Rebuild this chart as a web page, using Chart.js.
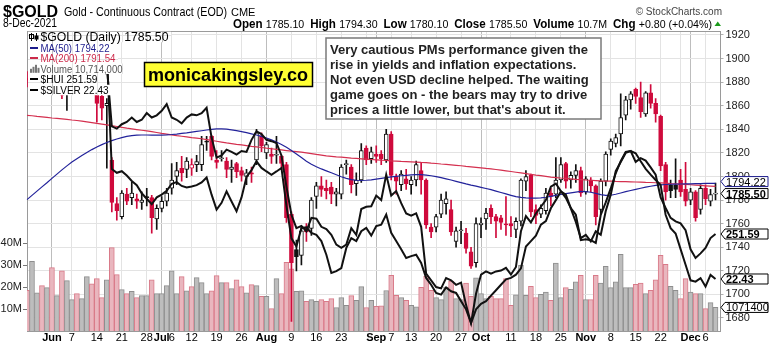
<!DOCTYPE html>
<html>
<head>
<meta charset="utf-8">
<script src="https://cdn.jsdelivr.net/npm/chart.js@4.4.0/dist/chart.umd.min.js"></script>
<style>
  html, body { margin: 0; padding: 0; background: #fff; }
</style>
</head>
<body>
<canvas id="goldChart" width="771" height="348"></canvas>
<script>
// trading days, May 24 - Dec 8 2021 (MM-DD)
const dates = [
  '05-24','05-25','05-26','05-27','05-28',
  '06-01','06-02','06-03','06-04','06-07','06-08','06-09','06-10','06-11','06-14','06-15','06-16','06-17','06-18',
  '06-21','06-22','06-23','06-24','06-25','06-28','06-29','06-30',
  '07-01','07-02','07-06','07-07','07-08','07-09','07-12','07-13','07-14','07-15','07-16','07-19','07-20','07-21',
  '07-22','07-23','07-26','07-27','07-28','07-29','07-30',
  '08-02','08-03','08-04','08-05','08-06','08-09','08-10','08-11','08-12','08-13','08-16','08-17','08-18','08-19',
  '08-20','08-23','08-24','08-25','08-26','08-27','08-30','08-31',
  '09-01','09-02','09-03','09-07','09-08','09-09','09-10','09-13','09-14','09-15','09-16','09-17','09-20','09-21',
  '09-22','09-23','09-24','09-27','09-28','09-29','09-30',
  '10-01','10-04','10-05','10-06','10-07','10-08','10-11','10-12','10-13','10-14','10-15','10-18','10-19','10-20',
  '10-21','10-22','10-25','10-26','10-27','10-28','10-29',
  '11-01','11-02','11-03','11-04','11-05','11-08','11-09','11-10','11-11','11-12','11-15','11-16','11-17','11-18',
  '11-19','11-22','11-23','11-24','11-26','11-29','11-30',
  '12-01','12-02','12-03','12-06','12-07','12-08'
];

const open = [
  1883,1882,1899,1900,1896,1906,1904,1909,1871,1891,
  1899,1894,1895,1897,1878,1868,1860,1814,1777,1766,
  1785,1782,1781,1778,1782,1782,1764,1773,1779,1790,
  1800,1807,1806,1807,1810,1810,1830,1834,1814,1815,
  1813,1806,1811,1805,1800,1803,1814,1834,1820,1819,
  1818,1817,1810,1768,1738,1733,1756,1756,1783,1792,
  1790,1791,1785,1785,1810,1808,1794,1797,1824,1815,
  1819,1819,1814,1836,1800,1793,1798,1793,1797,1805,
  1797,1757,1757,1768,1777,1772,1745,1754,1752,1736,
  1727,1759,1764,1773,1766,1765,1759.5,1760,1755,1762,
  1796,1801,1772,1768,1771,1786,1785,1797,1811,1797,
  1801,1805,1787,1797,1792,1772,1796,1823,1828,1836,
  1852,1865,1874,1867,1853,1871,1862,1851,1810,1793,
  1792.5,1797,1789,1780,1787,1772,1790,1779,1785.1
];
const high = [
  1889,1902,1913,1907,1916,1916,1910,1912,1894,1903,
  1902,1901,1902,1902,1880,1870,1866,1816,1782,1788,
  1790,1795,1785,1787,1790,1784,1776,1783,1790,1811,
  1812,1817,1816,1815,1818,1834,1834,1835,1822,1822,
  1816,1814,1812,1808,1806,1808,1840,1837,1829,1824,
  1834,1818,1812,1770,1746,1758,1760,1782,1795,1800,
  1797,1795,1790,1810,1814,1810,1803,1828,1826,1825,
  1826,1822,1840,1838,1802,1805,1806,1800,1813,1812,
  1798,1760,1768,1785,1787,1780,1757,1762,1756,1740,
  1765,1765,1773,1776,1768,1767,1783,1766,1765,1798,
  1805,1802,1776,1776,1790,1790,1816,1816,1812,1804,
  1810,1808,1800,1799,1793,1798,1821,1832,1836,1870,
  1868,1872,1875,1880,1872,1878,1866,1852,1812,1797,
  1815,1806,1812,1790,1788,1793,1793,1789,1794.3
];
const low = [
  1876,1879,1892,1888,1893,1897,1898,1866,1856,1888,
  1885,1886,1884,1874,1846,1848,1807,1770,1763,1764,
  1776,1776,1773,1772,1775,1752,1755,1770,1775,1785,
  1793,1796,1799,1801,1804,1805,1822,1814,1807,1813,
  1799,1795,1799,1796,1793,1795,1810,1821,1815,1811,
  1811,1806,1761,1677,1720,1725,1745,1750,1773,1783,
  1781,1777,1775,1781,1802,1786,1784,1795,1810,1811,
  1812,1810,1812,1797,1785,1788,1789,1785,1792,1785,
  1756,1748,1753,1765,1768,1750,1740,1743,1735,1722,
  1723,1748,1755,1760,1748,1755,1750,1749,1748,1758,
  1788,1766,1760,1765,1768,1775,1782,1795,1790,1790,
  1795,1783,1785,1787,1759,1768,1792,1818,1825,1826,
  1848,1857,1862,1850,1851,1858,1846,1805,1780,1782,
  1782,1783,1775,1776,1762,1768,1776,1775,1780.1
];
const close = [
  1882,1898,1901,1896,1905,1904,1909,1869,1891,1899,
  1894,1895,1898,1878,1862,1858,1862,1778,1771,1786,
  1779,1786,1779,1780,1782,1765,1773,1779,1786,1797,
  1805,1803,1813,1810,1812.6,1827,1829,1817,1812,1815.5,
  1806,1808,1804,1801,1803,1802,1837,1826,1827,1817,
  1818.5,1811,1765,1727,1732,1754,1753,1780,1792,1789,
  1788,1785,1787,1808,1811,1793,1797,1822,1814,1821,
  1817,1815,1836,1801,1796,1802,1794,1797,1810,1797,
  1759,1753,1766,1780,1781,1753,1754,1754.5,1739,1724,
  1760,1760.5,1769,1766,1762,1761,1759,1758,1762,1797,
  1800,1770,1767,1773,1786,1783,1797,1810,1796,1801,
  1805,1786,1798,1792,1766,1796,1819,1830,1833,1850,
  1865,1870,1868,1855,1871,1862,1853,1809,1787,1788,
  1789,1787,1779,1787,1765,1790,1781,1784.7,1785.5
];
// volume in millions
const volume = [
  18.5,31.7,17.4,20.6,19.7,28.8,16.1,27.4,22.9,14.3,
  17,14.7,24.7,21.5,23.8,15.2,23.3,37.9,25.6,18.8,
  17,18,15.2,16.1,16.1,23.3,17,17,20.6,27.4,
  17,24.7,18.3,20.2,24.3,22,17,18.3,25.2,22,
  22,19.3,23.3,20.2,17.4,21.1,20.6,15.8,15.8,10.2,
  23.8,17,31.2,28.3,18,18.3,13.5,14.3,13.5,14.3,
  13.5,14.7,10.6,15.2,11.7,16.1,14,20.2,10.6,14,
  11.2,11.5,18.4,25.3,16.2,15.2,14,11.7,11,19.9,
  24.9,18.5,15.2,14.3,20,22.6,14.7,14.3,21.8,15.8,
  24.2,17,14.7,15.8,14.7,14.7,23.8,11.7,16.5,29.9,
  16.2,20.3,15.2,16.7,17.7,14,30.9,15.2,19.7,19,
  22.3,25.3,14.3,14.3,25.3,21.8,29.4,19.7,22.3,34.9,
  19.7,19.7,21.2,21.8,17,18.5,23.3,34.4,30.3,20.3,
  18.5,14.7,23.8,17.7,17,17,10.2,12.9,10.714
];
const ma50 = [
  1780.4,1784,1787.6,1791.2,1794.7,1798.4,1802,1805.6,1809,1812.2,
  1815,1817.8,1820.4,1822.8,1825,1827,1828.8,1830.4,1831.8,1833,
  1834,1834.6,1835,1835.2,1835.2,1835.1,1835,1835.1,1835.3,1835.6,
  1836,1836.5,1837,1837.6,1838.2,1838.8,1839.4,1840,1840.3,1840.4,
  1840.2,1839.6,1838.9,1838.1,1837.2,1836.2,1835.2,1834,1832.6,1831,
  1829.2,1827.2,1824.8,1822,1819,1816,1813,1810.4,1808.2,1806.4,
  1804.8,1803.2,1801.5,1799.8,1798.4,1797.4,1796.8,1796.6,1796.8,1797.2,
  1797.8,1798.4,1799,1799.6,1800.1,1800.6,1801,1801.3,1801.5,1801.5,
  1801.2,1800.6,1799.9,1799,1798,1797,1795.9,1794.8,1793.7,1792.7,
  1791.8,1790.8,1789.8,1788.8,1787.6,1786.4,1785.2,1784,1782.9,1782.2,
  1781.8,1781.6,1781.6,1781.8,1782.4,1783.2,1784,1784.7,1785.4,1786.1,
  1786.8,1787.3,1787.2,1786.6,1785.6,1784.6,1783.9,1784.1,1784.9,1786,
  1787.1,1788.1,1789.1,1790,1790.9,1791.7,1792.4,1792.9,1793.2,1793.4,
  1793.5,1793.6,1793.7,1793.8,1793.9,1794,1794.1,1794.2,1794.22
];
const ma200 = [
  1851.9,1851.5,1851,1850.6,1850.1,1849.6,1849.2,1848.8,1848.4,1847.9,
  1847.5,1846.9,1846.3,1845.7,1845,1844.4,1843.8,1843.1,1842.4,1841.7,
  1841,1840.4,1839.8,1839.2,1838.6,1838,1837.3,1836.6,1836,1835.3,
  1834.6,1834.1,1833.6,1833,1832.5,1832,1831.3,1830.6,1829.9,1829.2,
  1828.5,1827.9,1827.3,1826.8,1826.2,1825.6,1825.1,1824.6,1824,1823.5,
  1823,1822.5,1822,1821.5,1821.1,1820.6,1820,1819.4,1818.7,1818.1,
  1817.5,1817.1,1816.7,1816.4,1816,1815.6,1815.3,1815,1814.7,1814.4,
  1814.1,1813.8,1813.6,1813.3,1813.1,1812.8,1812.6,1812.4,1812.2,1811.9,
  1811.7,1811.3,1811,1810.6,1810.3,1809.9,1809.5,1809.1,1808.6,1808.2,
  1807.8,1807.3,1806.8,1806.4,1805.9,1805.4,1804.8,1804.2,1803.6,1803,
  1802.4,1801.8,1801.2,1800.7,1800.1,1799.5,1799.1,1798.7,1798.4,1798,
  1797.6,1797.3,1797,1796.8,1796.5,1796.2,1796.1,1796,1795.8,1795.7,
  1795.6,1795.5,1795.3,1795.2,1795,1794.9,1794.7,1794.5,1794.3,1794,
  1793.8,1793.5,1793.3,1793,1792.7,1792.4,1792.1,1791.8,1791.54
];
const hui = [
  330,333,331,334,332,335,333,328,332,331,
  330,328,331,329,327,322,318,275.4,274,274.6,
  273,271,269.5,266.5,264.5,262.5,265,266,267.4,270,
  270.6,269.2,268.6,269,269.5,270.5,272.3,266,260.5,263,
  267.2,263.5,259.9,265,272.5,275,278.2,275.8,274.5,273.3,
  274.5,275.8,262,250,247,253.8,254,252,251.3,249,
  244,237.3,238,239.1,246.5,250.1,249,252.6,253.8,251,
  254.5,255,258.7,252,249,246,242.8,243.5,244,241,
  235.5,233,230,229.4,232,230.6,230,227,224,219,
  224,226,227,229,231,233,235,235.5,236.7,239,
  247,249,251,255,256.3,261,264,267.2,266,261,
  256,250.1,251.3,248.9,252.6,251.3,260,266,274.6,278,
  281.3,282,278,279.4,278.5,276,273.3,265,261.1,257.5,
  256.2,255.5,253,246,242.8,244.5,246.5,250.1,251.59
];
const silver = [
  28.2,28.1,27.9,28.1,28,28.2,28,27.6,28,27.9,
  27.9,27.8,28.2,28.1,28,27.7,27.2,25.85,25.8,25.9,
  25.95,26.05,25.95,26,26.15,26.05,26.1,26.2,26.35,26.05,
  26,25.92,26.05,26.12,26.1,26.15,26.27,25.6,25.15,25.2,
  25.33,25.28,25.22,25.3,25.28,25.55,25.74,25.68,25.55,25.52,
  25.48,25.2,24.5,23.87,23.57,23.62,23.5,23.8,23.78,23.6,
  23.55,23.42,23.2,23.13,23.2,23.57,23.42,24,24.05,24.06,
  24.3,24.2,24.77,24.3,24.4,24.13,23.9,23.85,23.9,23.6,
  22.55,22.4,22.25,22.22,22.45,22.4,22.3,22.35,21.85,21.44,
  22.1,22.53,22.6,22.55,22.6,22.62,22.68,22.53,22.7,23.5,
  23.84,23.7,23.9,24.05,24.2,24.5,24.57,24.4,24.25,24.02,
  23.87,23.3,23.32,23.3,23.24,23.87,24.15,24.46,24.8,25.07,
  25.28,25.3,25.25,25.07,24.9,24.77,24.65,24.54,23.87,23.57,
  23.45,23.1,22.75,22.4,22.37,22.45,22.26,22.52,22.43
];

const priceTicks = [1680,1700,1720,1740,1760,1780,1800,1820,1840,1860,1880,1900,1920];
const volTicks = [10,20,30,40];
const gridDates = ['06-01','06-07','06-14','06-21','06-28','07-01','07-06','07-12','07-19','07-26',
  '08-02','08-09','08-16','08-23','08-30','09-01','09-07','09-13','09-20','09-27','10-01','10-04',
  '10-11','10-18','10-25','11-01','11-08','11-15','11-22','11-29','12-01','12-06'];
const monthDates = ['06-01','07-01','08-02','09-01','10-01','11-01','12-01'];
const labelDates = ['06-01','06-07','06-14','06-21','06-28','07-01','07-06','07-12','07-19','07-26',
  '08-02','08-09','08-16','08-23','09-01','09-07','09-13','09-20','09-27','10-01','10-11','10-18',
  '10-25','11-01','11-08','11-15','11-22','12-01','12-06'];
const labelText = ['Jun','7','14','21','28','Jul','6','12','19','26','Aug','9','16','23','Sep','7',
  '13','20','27','Oct','11','18','25','Nov','8','15','22','Dec','6'];

const noteLines = [
  'Very cautious PMs performance given the',
  'rise in yields and inflation expectations.',
  'Not even USD decline helped. The waiting',
  'game goes on - the bears may try to drive',
  "prices a little lower, but that's about it."
];

const F = '"Liberation Sans", Arial, sans-serif';
const RED = '#cf0a3c', BLK = '#111';
const gridIdx = gridDates.map(d => dates.indexOf(d));
const monthIdx = new Set(monthDates.map(d => dates.indexOf(d)));
const labelMap = {};
labelDates.forEach((d, i) => { labelMap[dates.indexOf(d)] = labelText[i]; });

const up = close.map((c, i) => c >= (i ? close[i - 1] : open[i]));
const candleCol = up.map(u => u ? BLK : RED);
const bodyFill = close.map((c, i) => c > open[i] ? '#fff' : candleCol[i]);

function drawText(ctx, s, x, y, font, color, align, fitW) {
  ctx.save();
  ctx.font = font;
  ctx.fillStyle = color;
  ctx.textBaseline = 'alphabetic';
  ctx.textAlign = 'left';
  const w = ctx.measureText(s).width;
  const sx = fitW ? fitW / w : 1;
  const x0 = align === 'right' ? x - w * sx : x;
  ctx.translate(x0, y);
  ctx.scale(sx, 1);
  ctx.fillText(s, 0, 0);
  ctx.restore();
  return w * sx;
}

function tag(ctx, y, text, border, bold) {
  const x0 = 721, x1 = 768, h = 5;
  ctx.save();
  ctx.beginPath();
  ctx.moveTo(x0, y);
  ctx.lineTo(x0 + 4, y - h);
  ctx.lineTo(x1, y - h);
  ctx.lineTo(x1, y + h);
  ctx.lineTo(x0 + 4, y + h);
  ctx.closePath();
  ctx.fillStyle = '#fff';
  ctx.fill();
  ctx.strokeStyle = border;
  ctx.lineWidth = 1;
  ctx.stroke();
  ctx.restore();
  drawText(ctx, text, 726, y + 4, (bold ? 'bold ' : '') + '11px ' + F, '#000');
}

const overlay = {
  id: 'overlay',
  afterDraw(chart) {
    const ctx = chart.ctx;
    const a = chart.chartArea;
    const xs = chart.scales.x, ps = chart.scales.price;

    // top frame line
    ctx.save();
    ctx.strokeStyle = '#9a9a9a';
    ctx.lineWidth = 1;
    ctx.beginPath();
    ctx.moveTo(a.left, Math.round(a.top) + 0.5);
    ctx.lineTo(a.right, Math.round(a.top) + 0.5);
    ctx.stroke();
    ctx.restore();

    // legend
    const rows = [
      ['$GOLD (Daily) 1785.50', '#000', 'candle', '12px ' + F, 128],
      ['MA(50) 1794.22', '#1c1c8c', 'line', '10px ' + F, 69],
      ['MA(200) 1791.54', '#cc2a4a', 'line', '10px ' + F, 75],
      ['Volume 10,714,000', '#555', 'vol', '10px ' + F, 82],
      ['$HUI 251.59', '#000', 'line', '10px ' + F, 57],
      ['$SILVER 22.43', '#000', 'line', '10px ' + F, 68]
    ];
    const rects = rows.map((r, k) => {
      const yc = 37 + k * 10.6;
      return { x: a.left + 1, y: yc - 5.3, w: 13 + r[4] + 2, h: 10.6, yc };
    });
    ctx.save();
    ctx.beginPath();
    rects.forEach(r => ctx.rect(r.x, r.y, r.w, r.h));
    ctx.clip();
    ctx.fillStyle = '#fff';
    ctx.fillRect(0, 0, chart.width, chart.height);
    ctx.lineWidth = 1;
    xs.ticks.forEach(t => {
      const x = Math.round(xs.getPixelForValue(t.value)) + 0.5;
      ctx.strokeStyle = monthIdx.has(t.value) ? '#bdbdbd' : '#e3e3e3';
      ctx.beginPath(); ctx.moveTo(x, a.top); ctx.lineTo(x, a.bottom); ctx.stroke();
    });
    ps.ticks.forEach(t => {
      const y = Math.round(ps.getPixelForValue(t.value)) + 0.5;
      ctx.strokeStyle = '#e3e3e3';
      ctx.beginPath(); ctx.moveTo(a.left, y); ctx.lineTo(a.right, y); ctx.stroke();
    });
    ctx.restore();

    rows.forEach((r, k) => {
      const yc = rects[k].yc;
      ctx.save();
      if (r[2] === 'line') {
        ctx.fillStyle = r[1];
        ctx.fillRect(a.left + 3, Math.round(yc) - 1, 8, 2);
      } else if (r[2] === 'candle') {
        ctx.fillStyle = '#000';
        ctx.fillRect(a.left + 4, yc - 4, 1, 8);
        ctx.strokeStyle = '#000';
        ctx.strokeRect(a.left + 2.5, yc - 2.5, 4, 4);
        ctx.fillRect(a.left + 9, yc - 4, 1, 8);
        ctx.fillRect(a.left + 7.5, yc - 1.5, 4, 4);
      } else {
        ctx.fillStyle = '#777';
        [[3, 4], [5.5, 6], [8, 8], [10.5, 5]].forEach(b => ctx.fillRect(a.left + b[0], yc + 4 - b[1], 2, b[1]));
      }
      ctx.restore();
      drawText(ctx, r[0], a.left + 13.5, yc + 4, r[3], r[1], 'left', r[4]);
    });

    // yellow banner
    ctx.save();
    ctx.fillStyle = '#ffff33';
    ctx.fillRect(144.5, 62.5, 168, 24);
    ctx.strokeStyle = '#000';
    ctx.lineWidth = 1.5;
    ctx.strokeRect(144.5, 62.5, 168, 24);
    ctx.restore();
    drawText(ctx, 'monicakingsley.co', 148, 81, 'bold 18px ' + F, '#000', 'left', 160);

    // comment box
    ctx.save();
    ctx.fillStyle = '#fff';
    ctx.fillRect(326, 38, 275, 81);
    ctx.strokeStyle = '#7a7a7a';
    ctx.lineWidth = 1.5;
    ctx.strokeRect(326, 38, 275, 81);
    ctx.restore();
    noteLines.forEach((s, k) => drawText(ctx, s, 330, 53.5 + k * 15, 'bold 13px ' + F, '#222'));

    // header
    drawText(ctx, '$GOLD', 3, 17, 'bold 16px ' + F, '#000');
    drawText(ctx, 'Gold - Continuous Contract (EOD)', 64, 16, '13px ' + F, '#000', 'left', 163);
    drawText(ctx, 'CME', 231, 16, '11px ' + F, '#000');
    drawText(ctx, '8-Dec-2021', 3, 27, '12px ' + F, '#000', 'left', 54);
    drawText(ctx, '\u00a9 StockCharts.com', 722, 15, '10px ' + F, '#444', 'right');

    const segs = [['Open ', 1], ['1785.10  ', 0], ['High ', 1], ['1794.30  ', 0], ['Low ', 1], ['1780.10  ', 0],
      ['Close ', 1], ['1785.50  ', 0], ['Volume ', 1], ['10.7M  ', 0], ['Chg ', 1], ['+0.80 (+0.04%)', 0]];
    const segFont = b => (b ? 'bold 12px ' : '11px ') + F;
    let total = 0;
    segs.forEach(s => { ctx.font = segFont(s[1]); total += ctx.measureText(s[0]).width; });
    const sc = (712 - 233) / total;
    let cx = 233;
    segs.forEach(s => {
      ctx.font = segFont(s[1]);
      const w = ctx.measureText(s[0]).width * sc;
      drawText(ctx, s[0], cx, 27.5, segFont(s[1]), '#000', 'left', w);
      cx += w;
    });
    ctx.save();
    ctx.fillStyle = '#1a9a1a';
    ctx.beginPath();
    ctx.moveTo(714.5, 26); ctx.lineTo(721, 26); ctx.lineTo(717.75, 21.5); ctx.closePath();
    ctx.fill();
    ctx.restore();

    // value tags on right axis
    const n = close.length - 1;
    const tags = [
      { y: ps.getPixelForValue(ma50[n]), t: '1794.22', c: '#1c1c8c', b: false },
      { y: ps.getPixelForValue(close[n]), t: '1785.50', c: '#000', b: true },
      { y: chart.scales.hui.getPixelForValue(hui[n]), t: '251.59', c: '#000', b: true },
      { y: chart.scales.silver.getPixelForValue(silver[n]), t: '22.43', c: '#000', b: true },
      { y: chart.scales.vol.getPixelForValue(volume[n]), t: '1071400', c: '#000', b: false }
    ].sort((p, q) => p.y - q.y);
    for (let i = tags.length - 2; i >= 0; i--) {
      if (tags[i + 1].y - tags[i].y < 12) tags[i].y = tags[i + 1].y - 12;
    }
    tags.forEach(g => tag(ctx, g.y, g.t, g.c, g.b));
  }
};

new Chart(document.getElementById('goldChart'), {
  type: 'bar',
  data: {
    labels: dates.concat(['']),
    datasets: [
      {
        label: 'Volume', data: volume, yAxisID: 'vol', order: 10, grouped: false,
        barPercentage: 1, categoryPercentage: 1,
        backgroundColor: up.map(u => u ? '#bdbdbd' : '#e9b6be'),
        borderColor: up.map(u => u ? '#8e8e8e' : '#d97a89'),
        borderWidth: 1, borderSkipped: 'start'
      },
      {
        label: 'wick', data: low.map((l, i) => [l, high[i]]), yAxisID: 'price', order: 9, grouped: false,
        barThickness: 1, backgroundColor: candleCol, borderWidth: 0
      },
      {
        label: 'body', data: open.map((o, i) => [Math.min(o, close[i]), Math.max(o, close[i])]),
        yAxisID: 'price', order: 8, grouped: false, barThickness: 4, minBarLength: 1,
        backgroundColor: bodyFill, borderColor: candleCol, borderWidth: 1, borderSkipped: false
      },
      { type: 'line', label: 'MA200', data: ma200, yAxisID: 'price', order: 7,
        borderColor: '#d4304f', borderWidth: 1.2, pointRadius: 0, tension: 0 },
      { type: 'line', label: 'MA50', data: ma50, yAxisID: 'price', order: 6,
        borderColor: '#22229a', borderWidth: 1.2, pointRadius: 0, tension: 0 },
      { type: 'line', label: 'SILVER', data: silver, yAxisID: 'silver', order: 5,
        borderColor: '#111', borderWidth: 2, pointRadius: 0, tension: 0 },
      { type: 'line', label: 'HUI', data: hui, yAxisID: 'hui', order: 4,
        borderColor: '#111', borderWidth: 2, pointRadius: 0, tension: 0 }
    ]
  },
  options: {
    responsive: false,
    animation: false,
    devicePixelRatio: 1,
    layout: { padding: { top: 31, left: 0, right: 0, bottom: 0 } },
    plugins: { legend: { display: false }, tooltip: { enabled: false } },
    scales: {
      x: {
        type: 'category', offset: false,
        afterBuildTicks: s => { s.ticks = gridIdx.map(v => ({ value: v })); },
        afterFit: s => { s.height = 17; },
        grid: {
          offset: false, drawTicks: false,
          color: c => monthIdx.has(c.tick && c.tick.value) ? '#bdbdbd' : '#e3e3e3'
        },
        border: { color: '#9a9a9a' },
        ticks: {
          autoSkip: false, maxRotation: 0, padding: 0, color: '#000',
          callback: v => labelMap[v] || '',
          font: c => ({ family: 'Liberation Sans', size: 11,
            weight: monthIdx.has(c.tick && c.tick.value) ? 'bold' : 'normal' })
        }
      },
      price: {
        type: 'linear', position: 'right', min: 1668.94, max: 1923.39,
        afterBuildTicks: s => { s.ticks = priceTicks.map(v => ({ value: v })); },
        afterFit: s => { s.width = 50.5; },
        grid: { color: '#e3e3e3', tickLength: 3, tickColor: '#b0b0b0' },
        border: { color: '#9a9a9a' },
        ticks: { padding: 2, color: '#222', callback: v => String(v),
          font: { family: 'Liberation Sans', size: 11 } }
      },
      vol: {
        type: 'linear', position: 'left', min: 0, max: 136.4,
        afterBuildTicks: s => { s.ticks = volTicks.map(v => ({ value: v })); },
        afterFit: s => { s.width = 27; },
        grid: { drawOnChartArea: false, tickLength: 4, tickColor: '#777' },
        border: { color: '#9a9a9a' },
        ticks: { padding: 1, color: '#222', callback: v => v + 'M',
          font: { family: 'Liberation Sans', size: 11 } }
      },
      hui: { type: 'linear', display: false, min: 216.06, max: 325.95 },
      silver: { type: 'linear', display: false, min: 21.264, max: 27.99 }
    }
  },
  plugins: [overlay]
});
</script>
</body>
</html>
